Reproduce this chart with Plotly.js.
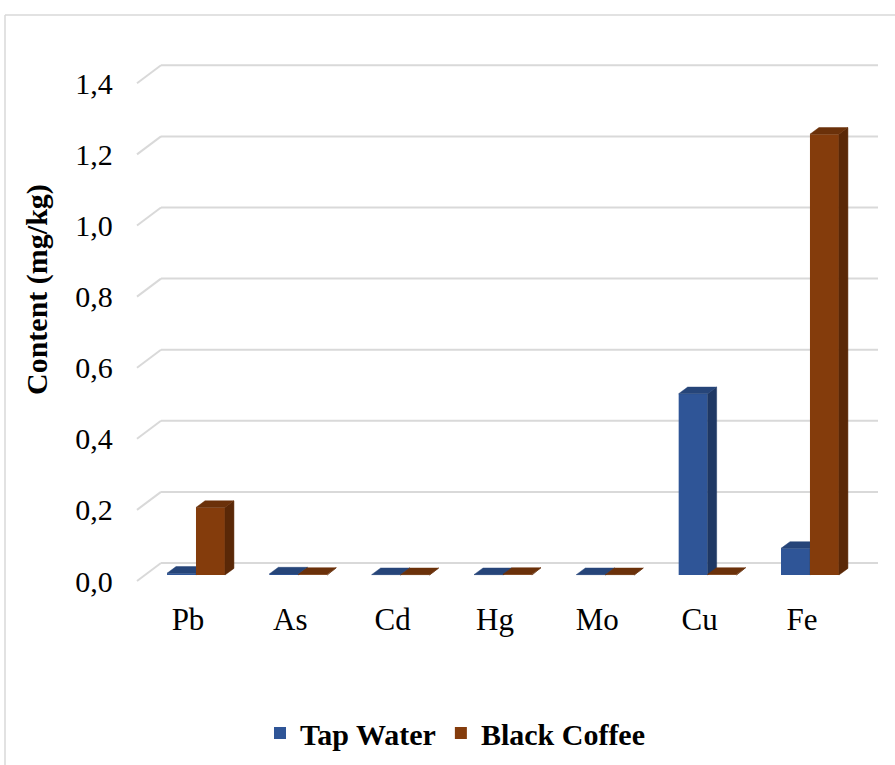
<!DOCTYPE html>
<html>
<head>
<meta charset="utf-8">
<script src="https://cdn.plot.ly/plotly-3.0.1.min.js"></script>
<style>
  html, body { margin: 0; padding: 0; background: #ffffff; }
  #chart { width: 895px; height: 765px; }
</style>
</head>
<body>
<div id="chart"></div>
<script>
// ---- data ----
const categories = ["Pb", "As", "Cd", "Hg", "Mo", "Cu", "Fe"];
const tapWater = [0.005, 0.003, 0.001, 0.001, 0.001, 0.51, 0.075];
const blackCoffee = [0.19, 0.002, 0.001, 0.002, 0.001, 0.002, 1.24];
const yTickVals = [0, 0.2, 0.4, 0.6, 0.8, 1.0, 1.2, 1.4];
const seriesNames = ["Tap Water", "Black Coffee"];

// ---- styling / geometry (pixels of a 895x765 page) ----
const W = 895, H = 765;
const FONT = "Liberation Serif, 'Times New Roman', Times, serif";
const px2x = p => p / W;
const px2y = p => 1 - p / H;

const catPx0 = 188, catStep = 102.33;        // label centre of first category and spacing
const xRange = [-0.5, 6.5];
const xDomain = [px2x(catPx0 - 0.5 * catStep), px2x(catPx0 + 6.5 * catStep)];
const plotTop = 50, plotBottom = 600, basePx = 575, pxPerUnit = 355.5;
const yRange = [-(plotBottom - basePx) / pxPerUnit, (basePx - plotTop) / pxPerUnit];
const yDomain = [px2y(plotBottom), px2y(plotTop)];
const backOff = 12 / pxPerUnit;     // back wall gridlines sit higher
const frontOff = 6 / pxPerUnit;     // front labels sit lower

const barW = 0.283;
const offsets = [-0.205, 0.078];
const DX = 9 / catStep;             // depth in category units
const DY = 6.6 / pxPerUnit;         // depth in value units

const colors = {
  front: ["#2F5597", "#843C0C"],
  side:  ["#1F3864", "#5A2807"],
  top:   ["#264579", "#6B310A"]
};

function faces(values, off) {
  const sx = [], sy = [], tx = [], ty = [];
  values.forEach((v, i) => {
    const xl = i + off, xr = xl + barW;
    sx.push(xr, xr + DX, xr + DX, xr, xr, null);
    sy.push(0, DY, v + DY, v, 0, null);
    tx.push(xl, xl + DX, xr + DX, xr, xl, null);
    ty.push(v, v + DY, v + DY, v, v, null);
  });
  return {sx, sy, tx, ty};
}

const series = [tapWater, blackCoffee];
const axesFor = [{x: "x", y: "y"}, {x: "x2", y: "y2"}];
const traces = [];
series.forEach((vals, s) => {
  const idx = vals.map((_, i) => i);
  traces.push({
    type: "bar", name: seriesNames[s], x: idx, y: vals,
    width: barW, offset: offsets[s],
    marker: {color: colors.front[s], line: {width: 0}},
    xaxis: axesFor[s].x, yaxis: axesFor[s].y,
    hovertemplate: seriesNames[s] + " %{customdata}: %{y}<extra></extra>",
    customdata: categories
  });
  const f = faces(vals, offsets[s]);
  traces.push({
    type: "scatter", mode: "lines", x: f.sx, y: f.sy, fill: "toself",
    fillcolor: colors.side[s], line: {color: colors.side[s], width: 0.5},
    showlegend: false, hoverinfo: "skip",
    xaxis: axesFor[s].x, yaxis: axesFor[s].y
  });
  traces.push({
    type: "scatter", mode: "lines", x: f.tx, y: f.ty, fill: "toself",
    fillcolor: colors.top[s], line: {color: colors.top[s], width: 0.5},
    showlegend: false, hoverinfo: "skip",
    xaxis: axesFor[s].x, yaxis: axesFor[s].y
  });
});

// gridlines on the back wall + diagonal connectors on the left wall
const shapes = [];
yTickVals.forEach(v => {
  shapes.push({type: "line", layer: "below", xref: "paper", yref: "y",
    x0: px2x(161), x1: px2x(878), y0: v + backOff, y1: v + backOff,
    line: {color: "#d9d9d9", width: 2}});
  shapes.push({type: "line", layer: "below", xref: "paper", yref: "y",
    x0: px2x(137), x1: px2x(161), y0: v - frontOff, y1: v + backOff,
    line: {color: "#d9d9d9", width: 2}});
});
// chart frame (left and top edges)
shapes.push({type: "line", xref: "paper", yref: "paper",
  x0: px2x(5), x1: 1.05, y0: px2y(15), y1: px2y(15), line: {color: "#d9d9d9", width: 1.5}});
shapes.push({type: "line", xref: "paper", yref: "paper",
  x0: px2x(5), x1: px2x(5), y0: px2y(15), y1: -0.05, line: {color: "#d9d9d9", width: 1.5}});

const layout = {
  width: W, height: H,
  margin: {l: 0, r: 0, t: 0, b: 0, pad: 0},
  paper_bgcolor: "#ffffff", plot_bgcolor: "rgba(0,0,0,0)",
  separators: ",.",
  barmode: "overlay",
  font: {family: FONT, color: "#000000", size: 30},
  showlegend: true,
  legend: {
    orientation: "h", x: px2x(455), xanchor: "center", y: px2y(733), yanchor: "middle",
    font: {family: FONT, size: 30, color: "#000000", weight: "bold"},
    traceorder: "normal", itemwidth: 30
  },
  xaxis: {
    domain: xDomain, range: xRange, anchor: "y",
    tickmode: "array", tickvals: categories.map((_, i) => i), ticktext: categories,
    showgrid: false, zeroline: false, showline: false, ticks: "",
    ticklabelstandoff: -2,
    tickfont: {family: FONT, size: 31, color: "#000000"}
  },
  yaxis: {
    domain: yDomain, range: yRange, anchor: "x",
    tickmode: "array", tickvals: yTickVals, tickformat: ".1f",
    showgrid: false, zeroline: false, showline: false, ticks: "",
    ticklabelstandoff: 23, ticklabelshift: 6,
    tickfont: {family: FONT, size: 30, color: "#000000"}
  },
  xaxis2: {overlaying: "x", range: xRange, anchor: "y2", visible: false},
  yaxis2: {overlaying: "y", range: yRange, anchor: "x2", visible: false},
  shapes: shapes,
  annotations: [{
    text: "<b>Content (mg/kg)</b>", textangle: -90,
    xref: "paper", yref: "paper", x: px2x(37), y: px2y(290),
    xanchor: "center", yanchor: "middle", showarrow: false,
    font: {family: FONT, size: 30, color: "#000000"}
  }]
};

Plotly.newPlot("chart", traces, layout, {displayModeBar: false, staticPlot: true});
</script>
</body>
</html>
